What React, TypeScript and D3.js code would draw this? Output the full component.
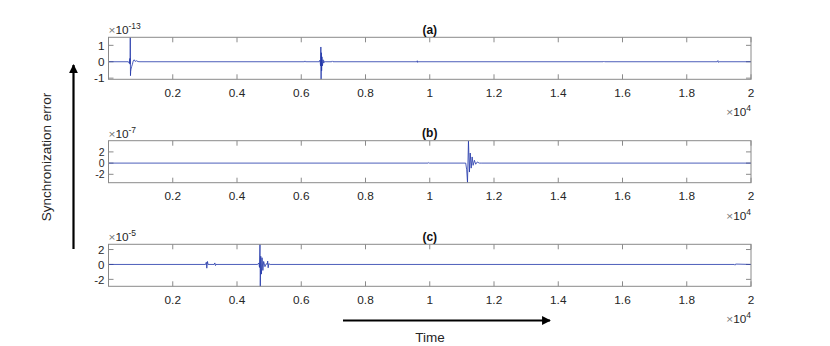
import React from "react";
import * as d3 from "d3";

// ---- data (time in samples, error in units of the panel exponent) ----
const timeA = [0, 620, 650, 665, 672, 678, 684, 690, 700, 720, 745, 770, 800, 830, 870, 920, 980, 6100, 6115, 6130, 6560, 6585, 6600, 6610, 6618, 6626, 6634, 6645, 6660, 6680, 6700, 6730, 6760, 6950, 6970, 6990, 9600, 9612, 9624, 9640, 15400, 15420, 15440, 18950, 18970, 18990, 19010, 20000];
const errA = [0, 0, -0.1, 0.2, -0.15, 1.49, -0.85, -0.6, -0.45, -0.3, -0.15, 0.05, 0.12, 0.02, 0.06, 0.01, 0, 0, 0.05, 0, 0, 0.1, -0.25, 0.9, -1.07, 0.55, -0.55, 0.3, -0.25, 0.12, -0.08, 0.03, 0, 0, 0.05, 0, 0, 0.06, -0.04, 0, 0, 0.04, 0, 0, 0.07, -0.04, 0, 0];

const timeB = [0, 9950, 9970, 9990, 11120, 11150, 11175, 11205, 11235, 11260, 11290, 11320, 11350, 11390, 11430, 11480, 11540, 11600, 20000];
const errB = [0, 0, 0.1, 0, 0, -1.2, -3.45, 3.95, -1.6, 1.8, -0.9, 1.1, -0.4, 0.5, -0.2, 0.2, 0, 0, 0];

const timeC = [0, 3020, 3045, 3060, 3080, 3100, 3290, 3310, 3330, 3345, 4640, 4680, 4700, 4715, 4725, 4740, 4760, 4780, 4805, 4830, 4870, 4910, 4940, 4955, 4970, 4990, 5030, 19480, 19500, 19520, 20000];
const errC = [0, 0, 0.3, -0.5, 0.4, 0, 0, 0.2, -0.15, 0, 0, 0.2, -0.4, 2.7, -2.93, 1.1, -1.3, 0.9, -0.8, 0.4, -0.3, 0.1, 0, 0.45, -0.45, 0.1, 0, 0, -0.1, 0.05, 0];

const xTickValues = [2000, 4000, 6000, 8000, 10000, 12000, 14000, 16000, 18000, 20000];
const xTickLabels = ["0.2", "0.4", "0.6", "0.8", "1", "1.2", "1.4", "1.6", "1.8", "2"];

const panelTitles = ["(a)", "(b)", "(c)"];
const panelExponents = ["-13", "-7", "-5"];
const yTicksA = [-1, 0, 1];
const yTicksB = [-2, 0, 2];
const yTicksC = [-2, 0, 2];
const yDomainA = [-1.07, 1.49];
const yDomainB = [-3.5, 4];
const yDomainC = [-2.93, 2.7];

const FONT = "'Liberation Sans', Arial, Helvetica, sans-serif";

const X0 = 108.5;
const X1 = 751;
const PANEL_TOPS = [37.3, 140.7, 244.3];
const PANEL_H = 42;

const xScale = d3.scaleLinear().domain([0, 20000]).range([X0, X1]);

function Panel({ top, times, errs, yDomain, yTicks, title, exponent, yFont }: any) {
  const y = d3.scaleLinear().domain(yDomain).range([top + PANEL_H, top]);
  const pts: [number, number][] = times.map((t: number, i: number) => [t, errs[i]]);
  const line = d3
    .line<[number, number]>()
    .x((d) => xScale(d[0]))
    .y((d) => y(d[1]));
  const bottom = top + PANEL_H;
  const axisColor = "#8a8a8a";
  const tickLen = 5;
  return (
    <g>
      {xTickValues.map((v, i) => (
        <g key={"xt" + i}>
          <line x1={xScale(v)} x2={xScale(v)} y1={bottom} y2={bottom - tickLen} stroke={axisColor} strokeWidth={1} />
          <line x1={xScale(v)} x2={xScale(v)} y1={top} y2={top + tickLen} stroke={axisColor} strokeWidth={1} />
          <text x={xScale(v)} y={bottom + 17.5} fontSize={11.8} fill="#262626" textAnchor="middle" fontFamily={FONT}>
            {xTickLabels[i]}
          </text>
        </g>
      ))}
      {yTicks.map((v: number, i: number) => (
        <g key={"yt" + i}>
          <line x1={X0} x2={X0 + tickLen} y1={y(v)} y2={y(v)} stroke={axisColor} strokeWidth={1} />
          <line x1={X1} x2={X1 - tickLen} y1={y(v)} y2={y(v)} stroke={axisColor} strokeWidth={1} />
          <text x={X0 - 4} y={y(v) + yFont * 0.36} fontSize={yFont} fill="#262626" textAnchor="end" fontFamily={FONT}>
            {v}
          </text>
        </g>
      ))}
      <path d={line(pts) || ""} fill="none" stroke="#1f35a8" strokeWidth={0.8} />
      <rect x={X0} y={top} width={X1 - X0} height={PANEL_H} fill="none" stroke={axisColor} strokeWidth={1} />
      <text x={(X0 + X1) / 2} y={top - 3.5} fontSize={12} fontWeight="bold" fill="#111" textAnchor="middle" fontFamily={FONT}>
        {title}
      </text>
      <text x={X0} y={top - 3} fontSize={11.8} fill="#262626" fontFamily={FONT}>
        <tspan fill="#777">×</tspan>
        <tspan>10</tspan>
        <tspan fontSize={8.5} dy={-5}>{exponent}</tspan>
      </text>
      <text x={X1} y={bottom + 37} fontSize={11.8} fill="#262626" textAnchor="end" fontFamily={FONT}>
        <tspan fill="#777">×</tspan>
        <tspan>10</tspan>
        <tspan fontSize={8.5} dy={-5}>4</tspan>
      </text>
    </g>
  );
}

export default function App() {
  return (
    <svg width={830} height={346} style={{ position: "absolute", left: 0, top: 0, background: "#fff" }}>
      <defs>
        <marker id="arrowHead" viewBox="0 0 10 10" refX="9" refY="5" markerWidth="4.5" markerHeight="4" orient="auto">
          <path d="M0,0 L10,5 L0,10 z" fill="#000" />
        </marker>
      </defs>
      <Panel top={PANEL_TOPS[0]} times={timeA} errs={errA} yDomain={yDomainA} yTicks={yTicksA} title={panelTitles[0]} exponent={panelExponents[0]} yFont={11.8} />
      <Panel top={PANEL_TOPS[1]} times={timeB} errs={errB} yDomain={yDomainB} yTicks={yTicksB} title={panelTitles[1]} exponent={panelExponents[1]} yFont={10.5} />
      <Panel top={PANEL_TOPS[2]} times={timeC} errs={errC} yDomain={yDomainC} yTicks={yTicksC} title={panelTitles[2]} exponent={panelExponents[2]} yFont={11.5} />

      <line x1={73.5} y1={249} x2={73.5} y2={65} stroke="#000" strokeWidth={2.2} markerEnd="url(#arrowHead)" />
      <text transform="translate(51,157) rotate(-90)" fontSize={13.5} fill="#262626" textAnchor="middle" fontFamily={FONT}>
        Synchronization error
      </text>

      <line x1={343} y1={320.5} x2={550} y2={320.5} stroke="#000" strokeWidth={2.2} markerEnd="url(#arrowHead)" />
      <text x={430} y={342} fontSize={13.5} fill="#262626" textAnchor="middle" fontFamily={FONT}>
        Time
      </text>
    </svg>
  );
}
